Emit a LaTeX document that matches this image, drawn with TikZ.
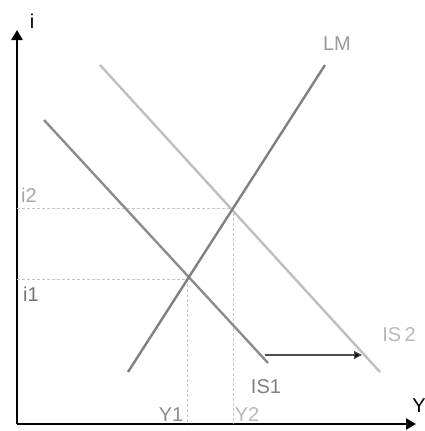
\documentclass[tikz,border=0pt]{standalone}
\usepackage{fontspec}
\setmainfont{Liberation Sans}
\usetikzlibrary{arrows.meta}
\begin{document}
\begin{tikzpicture}[x=1pt,y=-1pt,
  axis/.style={line width=2.8pt,black,-{Triangle[length=10pt,width=11pt]}},
  curve/.style={line width=2.4pt},
  guide/.style={line width=0.8pt,dash pattern=on 3pt off 2pt,gray!45},
  lbl/.style={font=\fontsize{20}{22}\selectfont,inner sep=0pt}]
\useasboundingbox (0,0) rectangle (425,431);
\coordinate (O) at (17,424);
\coordinate (ytop) at (17,30);
\coordinate (xend) at (416,424);
\draw[axis] (O) -- (ytop);
\draw[axis] (O) -- (xend);
\node[lbl,text=black] (ilab) at (32,21) {i};
\node[lbl,text=black] (Ylab) at (419,406) {Y};
% curves
\coordinate (is1a) at (44,120); \coordinate (is1b) at (268,363);
\coordinate (is2a) at (100,65); \coordinate (is2b) at (380,372);
\coordinate (lma) at (128,372); \coordinate (lmb) at (325,65);
\coordinate (E1) at (187,279);
\coordinate (E2) at (233,208);
\coordinate (i1ax) at (17,279); \coordinate (i2ax) at (17,208);
\coordinate (y1ax) at (187,424); \coordinate (y2ax) at (233,424);
\draw[guide] (i2ax) -- (E2);
\draw[guide] (i1ax) -- (E1);
\draw[guide] (E1) -- (y1ax);
\draw[guide] (E2) -- (y2ax);
\draw[curve,color=black!45] (is1a) -- (is1b);
\draw[curve,color=black!25] (is2a) -- (is2b);
\draw[curve,color=black!50] (lma) -- (lmb);
% shift arrow
\coordinate (sa) at (265,355); \coordinate (sb) at (362,355);
\draw[line width=1.2pt,-{Triangle[length=8pt,width=8pt,fill=black]},color=black!70] (sa) -- (sb);
% labels
\node[lbl,text=black!35] (i2l) at (29,195) {i2};
\node[lbl,text=black!55] (i1l) at (31,294) {i1};
\node[lbl,text=black!45] (y1l) at (171,415) {Y1};
\node[lbl,text=black!28] (y2l) at (247,415) {Y2};
\node[lbl,text=black!50] (is1l) at (266,387) {IS1};
\node[lbl,text=black!28] (is2l) at (399,335) {IS\,2};
\node[lbl,text=black!40] (lml) at (337,44) {LM};
\end{tikzpicture}
\end{document}
